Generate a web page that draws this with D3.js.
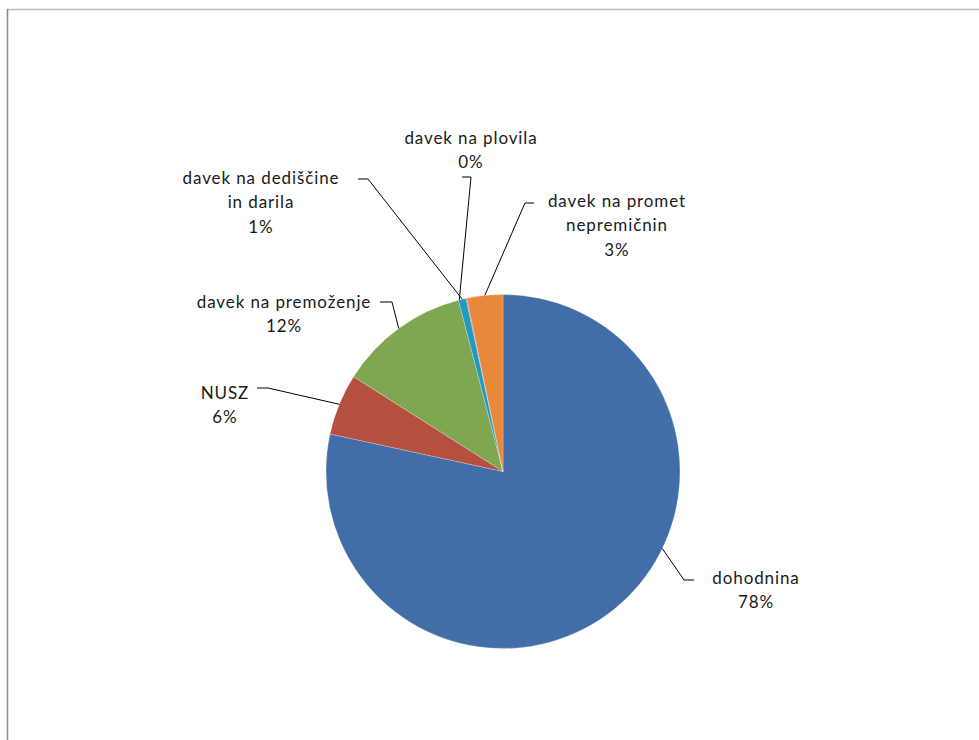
<!DOCTYPE html>
<html>
<head>
<meta charset="utf-8">
<script src="https://cdn.jsdelivr.net/npm/d3@7"></script>
<style>
  html, body { margin: 0; padding: 0; background: #fff; }
  svg { display: block; }
  text { font-family: Lato, "Open Sans", sans-serif; font-size: 17px; fill: #1a1a1a; letter-spacing: 0.9px; }
</style>
</head>
<body>
<svg id="chart" width="979" height="740"></svg>
<script>
// ---- data ----
const categories = ["dohodnina", "NUSZ", "davek na premoženje", "davek na dediščine in darila", "davek na plovila", "davek na promet nepremičnin"];
const values = [78.4, 5.6, 11.95, 0.7, 0.07, 3.28];
const percentLabels = ["78%", "6%", "12%", "1%", "0%", "3%"];
const labelLines = [["dohodnina"], ["NUSZ"], ["davek na premoženje"], ["davek na dediščine", "in darila"], ["davek na plovila"], ["davek na promet", "nepremičnin"]];
const colors = ["#416EA9", "#B4503F", "#7FA651", "#2399C1", "#7D62A0", "#E8883A"];

// ---- layout (label placement) ----
const layout = [
  { anchorDeg: 115.8, elbow: [684, 580], end: [694, 580], tx: 756, ty: 577 },
  { anchorDeg: null,  elbow: [268, 388], end: [257, 388], tx: 225, ty: 392 },
  { anchorDeg: null,  elbow: [392, 302], end: [380, 302], tx: 284, ty: 301 },
  { anchorDeg: null,  elbow: [368, 179], end: [358, 179], tx: 261, ty: 177 },
  { anchorDeg: 345.7, elbow: [471, 177], end: [462, 177], tx: 471, ty: 137 },
  { anchorDeg: null,  elbow: [525, 203], end: [534, 203], tx: 617, ty: 200 }
];
const lineH = 24.5;

const svg = d3.select("#chart");
const cx = 503, cy = 471.5, r = 177;

// chart frame
svg.append("line").attr("x1", 7).attr("y1", 9.5).attr("x2", 979).attr("y2", 9.5)
  .attr("stroke", "#BDBDBD").attr("stroke-width", 1.5);
svg.append("line").attr("x1", 7.5).attr("y1", 9).attr("x2", 7.5).attr("y2", 740)
  .attr("stroke", "#8A8A8A").attr("stroke-width", 1.5);

const data = categories.map((c, i) => ({ name: c, value: values[i], i }));
const pie = d3.pie().value(d => d.value).sort(null);
const arcs = pie(data);
const arc = d3.arc().innerRadius(0).outerRadius(r);

const g = svg.append("g").attr("transform", `translate(${cx},${cy})`);
g.selectAll("path.slice").data(arcs).enter().append("path")
  .attr("class", "slice")
  .attr("d", arc)
  .attr("fill", d => colors[d.data.i])
  .attr("stroke", "#ffffff").attr("stroke-width", 0.4).attr("stroke-opacity", 0.6);

// leader lines
arcs.forEach(a => {
  const L = layout[a.data.i];
  const ang = L.anchorDeg != null ? L.anchorDeg * Math.PI / 180 : (a.startAngle + a.endAngle) / 2;
  const px = cx + r * Math.sin(ang), py = cy - r * Math.cos(ang);
  svg.append("polyline")
    .attr("points", [[px, py], L.elbow, L.end].map(p => p.join(",")).join(" "))
    .attr("fill", "none").attr("stroke", "#000").attr("stroke-width", 1);
});

// labels
arcs.forEach(a => {
  const L = layout[a.data.i];
  const lines = labelLines[a.data.i].concat([percentLabels[a.data.i]]);
  const t = svg.append("text").attr("text-anchor", "middle");
  lines.forEach((s, k) => {
    t.append("tspan").attr("x", L.tx).attr("y", L.ty + k * lineH)
      .attr("dominant-baseline", "central").text(s);
  });
});
</script>
</body>
</html>
